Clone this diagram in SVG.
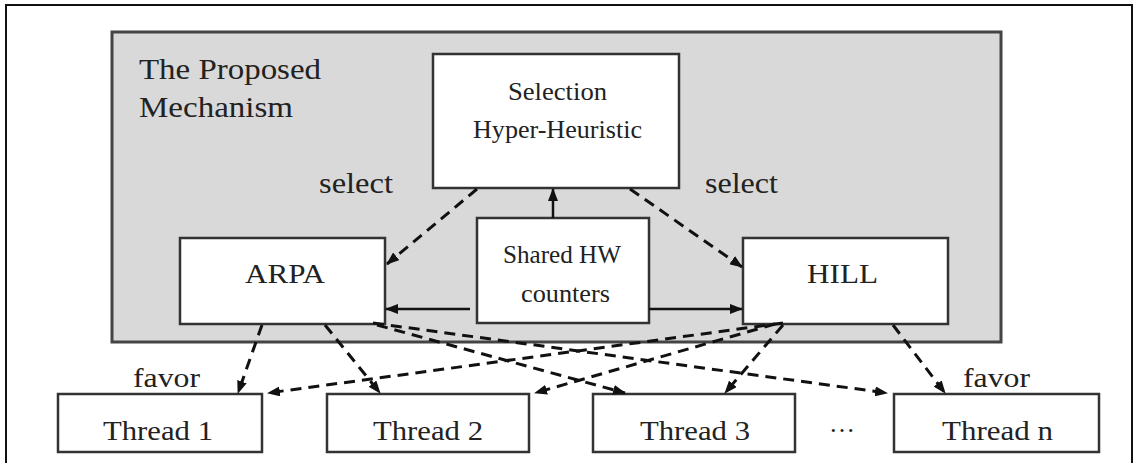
<svg xmlns="http://www.w3.org/2000/svg" width="1139" height="463" viewBox="0 0 1139 463">
<defs>
<style>
.box{fill:#fff;stroke:#333;stroke-width:2.5}
.t{font-family:"Liberation Serif","Times New Roman",serif;fill:#222}
.sol{stroke:#111;stroke-width:2.5;fill:none}
.dsh{stroke:#111;stroke-width:3;fill:none;stroke-dasharray:11 7}
</style>
<marker id="ah" markerWidth="13" markerHeight="10" refX="12" refY="5" orient="auto" markerUnits="userSpaceOnUse">
<path d="M0,0 L13,5 L0,10 z" fill="#111"/>
</marker>
</defs>
<rect x="0" y="0" width="1139" height="463" fill="#fff"/>
<rect x="6" y="5" width="1126" height="470" fill="none" stroke="#111" stroke-width="2"/>

<g id="mechanism">
<rect x="112" y="32" width="889" height="310" fill="#d9d9d9" stroke="#444" stroke-width="3"/>
<text class="t" x="139" y="79" font-size="30" textLength="182" lengthAdjust="spacingAndGlyphs">The Proposed</text>
<text class="t" x="139" y="117" font-size="30" textLength="154" lengthAdjust="spacingAndGlyphs">Mechanism</text>
</g>

<g id="selection">
<rect class="box" x="433" y="54" width="246" height="134"/>
<text class="t" x="508" y="100" font-size="25" textLength="99" lengthAdjust="spacingAndGlyphs">Selection</text>
<text class="t" x="473" y="138" font-size="25" textLength="169" lengthAdjust="spacingAndGlyphs">Hyper-Heuristic</text>
</g>

<g id="arpa">
<rect class="box" x="180" y="238" width="205" height="86"/>
<text class="t" x="245" y="283" font-size="28" textLength="80" lengthAdjust="spacingAndGlyphs">ARPA</text>
</g>

<g id="shared">
<rect class="box" x="477" y="218" width="172" height="105"/>
<text class="t" x="503" y="263" font-size="25" textLength="118" lengthAdjust="spacingAndGlyphs">Shared HW</text>
<text class="t" x="521" y="302" font-size="25" textLength="89" lengthAdjust="spacingAndGlyphs">counters</text>
</g>

<g id="hill">
<rect class="box" x="743" y="238" width="205" height="86"/>
<text class="t" x="807" y="283" font-size="28" textLength="71" lengthAdjust="spacingAndGlyphs">HILL</text>
</g>

<g id="thread1">
<rect class="box" x="58" y="394" width="204" height="58"/>
<text class="t" x="103" y="440" font-size="28" textLength="110" lengthAdjust="spacingAndGlyphs">Thread 1</text>
</g>
<g id="thread2">
<rect class="box" x="327" y="394" width="202" height="58"/>
<text class="t" x="373" y="440" font-size="28" textLength="110" lengthAdjust="spacingAndGlyphs">Thread 2</text>
</g>
<g id="thread3">
<rect class="box" x="593" y="394" width="202" height="58"/>
<text class="t" x="640" y="440" font-size="28" textLength="110" lengthAdjust="spacingAndGlyphs">Thread 3</text>
</g>
<g id="threadn">
<rect class="box" x="894" y="394" width="205" height="58"/>
<text class="t" x="942" y="440" font-size="28" textLength="111" lengthAdjust="spacingAndGlyphs">Thread n</text>
</g>

<g id="labels">
<text class="t" x="319" y="193" font-size="29" textLength="74" lengthAdjust="spacingAndGlyphs">select</text>
<text class="t" x="705" y="193" font-size="29" textLength="73" lengthAdjust="spacingAndGlyphs">select</text>
<text class="t" x="133" y="387" font-size="28" textLength="67" lengthAdjust="spacingAndGlyphs">favor</text>
<text class="t" x="963" y="387" font-size="28" textLength="67" lengthAdjust="spacingAndGlyphs">favor</text>
<text class="t" x="829" y="432" font-size="26">…</text>
</g>

<g id="connectors">
<line class="sol" x1="553" y1="218" x2="553" y2="189" marker-end="url(#ah)"/>
<line class="sol" x1="470" y1="309" x2="386" y2="309" marker-end="url(#ah)"/>
<line class="sol" x1="649" y1="309" x2="742" y2="309" marker-end="url(#ah)"/>
<line class="dsh" x1="477" y1="189" x2="387" y2="264" marker-end="url(#ah)"/>
<line class="dsh" x1="630" y1="189" x2="742" y2="267" marker-end="url(#ah)"/>
<line class="dsh" x1="262" y1="325" x2="238" y2="393" marker-end="url(#ah)"/>
<line class="dsh" x1="325" y1="325" x2="380" y2="393" marker-end="url(#ah)"/>
<line class="dsh" x1="377" y1="325" x2="625" y2="393" marker-end="url(#ah)"/>
<line class="dsh" x1="373" y1="323" x2="887" y2="393" marker-end="url(#ah)"/>
<line class="dsh" x1="783" y1="323" x2="268" y2="393" marker-end="url(#ah)"/>
<line class="dsh" x1="775" y1="324" x2="535" y2="393" marker-end="url(#ah)"/>
<line class="dsh" x1="783" y1="325" x2="725" y2="393" marker-end="url(#ah)"/>
<line class="dsh" x1="893" y1="325" x2="945" y2="393" marker-end="url(#ah)"/>
</g>
</svg>
